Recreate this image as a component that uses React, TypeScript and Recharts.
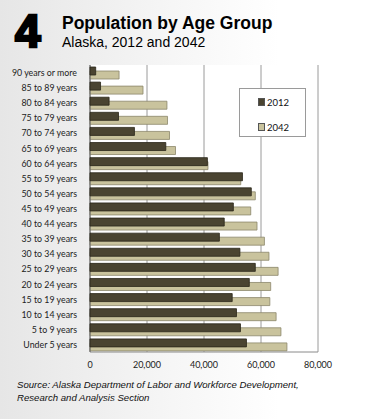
import React from "react";
import { BarChart, Bar, XAxis, YAxis, CartesianGrid } from "recharts";

const ageGroups = [
  "90 years or more",
  "85 to 89 years",
  "80 to 84 years",
  "75 to 79 years",
  "70 to 74 years",
  "65 to 69 years",
  "60 to 64 years",
  "55 to 59 years",
  "50 to 54 years",
  "45 to 49 years",
  "40 to 44 years",
  "35 to 39 years",
  "30 to 34 years",
  "25 to 29 years",
  "20 to 24 years",
  "15 to 19 years",
  "10 to 14 years",
  "5 to 9 years",
  "Under 5 years",
];

const pop2012 = [
  2000, 3700, 6700, 10000, 15600, 26600, 41200, 53500, 56600, 50300, 47100,
  45400, 52600, 58000, 55900, 49900, 51400, 52800, 54900,
];

const pop2042 = [
  10200, 18600, 27000, 27200, 27900, 30000, 41400, 52900, 58000, 56400, 58600,
  61200, 62800, 66000, 63400, 63100, 65300, 67000, 69100,
];

const xTicks = [0, 20000, 40000, 60000, 80000];

const data = ageGroups.map((age, i) => ({
  age,
  y2012: pop2012[i],
  y2042: pop2042[i],
}));

const DARK = "#4a4431";
const LIGHT = "#c9c39d";
const FONT = "Lato, 'Liberation Sans', sans-serif";

const legendItems = [
  { label: "2012", color: DARK },
  { label: "2042", color: LIGHT },
];

function AgeTick(props: any) {
  const { x, y, payload } = props;
  return (
    <text x={x} y={y} dy={3.5} textAnchor="end" fontSize={8.8} fill="#222" fontFamily={FONT}>
      {payload.value}
    </text>
  );
}

export default function App() {
  return (
    <div
      style={{
        position: "absolute",
        left: 0,
        top: 0,
        width: 372,
        height: 419,
        background: "linear-gradient(to right, #e6e6e6 0%, #f4f4f4 40%, #ffffff 75%)",
        fontFamily: "'Liberation Sans', Arial, sans-serif",
        overflow: "hidden",
      }}
    >
      <div
        style={{
          position: "absolute",
          left: 15,
          top: 6,
          fontSize: 46,
          fontWeight: 900,
          lineHeight: "50px",
          color: "#000",
          WebkitTextStroke: "2.5px #000",
        }}
      >
        4
      </div>
      <div
        style={{
          position: "absolute",
          left: 62,
          top: 13,
          fontSize: 17.5,
          fontWeight: 700,
          color: "#000",
          lineHeight: "20px",
        }}
      >
        Population by Age Group
      </div>
      <div
        style={{
          position: "absolute",
          left: 62,
          top: 34,
          fontSize: 14,
          color: "#000",
          lineHeight: "16px",
        }}
      >
        Alaska, 2012 and 2042
      </div>

      <div style={{ position: "absolute", left: 0, top: 0 }}>
        <BarChart
          width={372}
          height={419}
          data={data}
          layout="vertical"
          margin={{ top: 65, right: 54, left: 0, bottom: 47 }}
          barGap={-4}
        >
          <CartesianGrid horizontal={false} stroke="#9a9a9a" fill="#ffffff" />
          <XAxis
            type="number"
            domain={[0, 80000]}
            ticks={xTicks}
            tickFormatter={(v: number) => v.toLocaleString("en-US")}
            tick={{ fontSize: 9, fill: "#222", fontFamily: FONT }}
            tickLine={false}
            axisLine={{ stroke: "#8a8a8a" }}
            height={20}
            tickMargin={4}
          />
          <XAxis
            xAxisId="top"
            orientation="top"
            type="number"
            domain={[0, 80000]}
            tick={false}
            tickLine={false}
            axisLine={{ stroke: "#8a8a8a" }}
            height={0}
          />
          <YAxis
            type="category"
            dataKey="age"
            width={90}
            tick={AgeTick}
            tickLine={false}
            axisLine={{ stroke: "#666" }}
            tickMargin={7}
            interval={0}
          />
          <Bar
            dataKey="y2012"
            name="2012"
            fill={DARK}
            stroke="#2a2619"
            strokeWidth={0.8}
            barSize={8}
            isAnimationActive={false}
            zIndex={500}
          />
          <Bar
            dataKey="y2042"
            name="2042"
            fill={LIGHT}
            stroke="#8b876b"
            strokeWidth={0.8}
            barSize={8}
            isAnimationActive={false}
          />
        </BarChart>
      </div>

      <div
        style={{
          position: "absolute",
          left: 239,
          top: 88,
          width: 67,
          height: 49,
          border: "1px solid #9a9a9a",
          background: "#fff",
          boxSizing: "border-box",
          paddingTop: 4,
          fontFamily: FONT,
          fontSize: 9.5,
          color: "#111",
        }}
      >
        {legendItems.map((it) => (
          <div
            key={it.label}
            style={{ display: "flex", alignItems: "center", marginLeft: 18, height: 18, marginBottom: 7 }}
          >
            <span
              style={{
                display: "inline-block",
                width: 5,
                height: 6,
                background: it.color,
                border: "1px solid #555",
                marginRight: 2,
              }}
            />
            {it.label}
          </div>
        ))}
      </div>

      <div
        style={{
          position: "absolute",
          left: 17,
          top: 378,
          fontSize: 9.6,
          fontStyle: "italic",
          color: "#111",
          lineHeight: "13px",
        }}
      >
        Source: Alaska Department of Labor and Workforce Development,
        <br />
        Research and Analysis Section
      </div>
    </div>
  );
}
